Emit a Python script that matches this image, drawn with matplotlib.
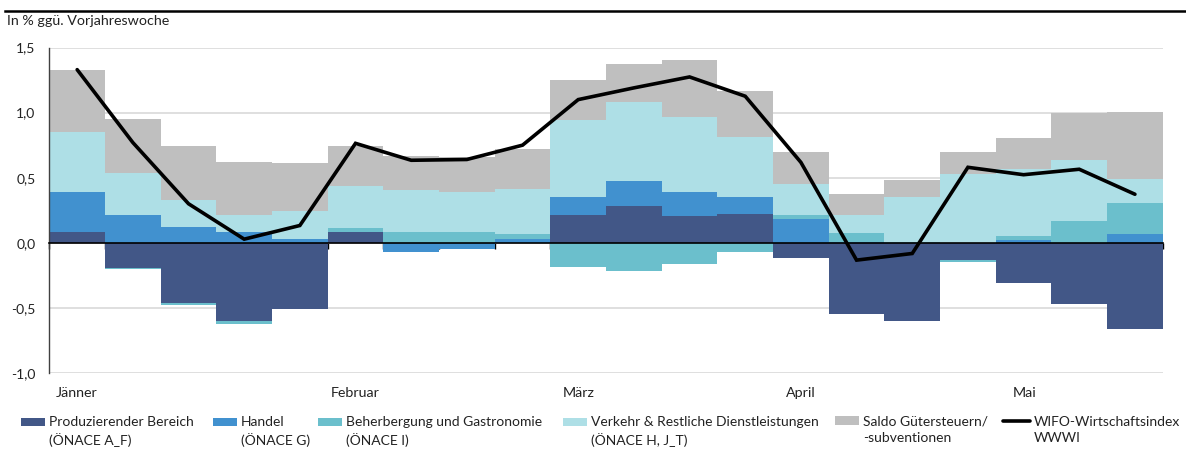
import numpy as np
import matplotlib
matplotlib.use("Agg")
import matplotlib.pyplot as plt
from matplotlib.lines import Line2D
from matplotlib.patches import Rectangle
from matplotlib.legend_handler import HandlerPatch, HandlerLine2D, update_from_first_child
from matplotlib.ticker import FixedLocator, FuncFormatter

plt.rcParams['font.family'] = ['Lato', 'DejaVu Sans']

# Wochenbeiträge zum WWWI (in Prozentpunkten)
prod = [0.08, -0.19, -0.465, -0.598, -0.511, 0.084, 0.0, 0.0, 0.0, 0.217,
        0.284, 0.207, 0.22, -0.115, -0.547, -0.598, -0.133, -0.312, -0.47, -0.659]
handel = [0.31, 0.212, 0.123, 0.08, 0.03, -0.005, -0.067, -0.05, 0.031, 0.138,
          0.189, 0.184, 0.135, 0.186, 0.005, 0.0, 0.0, 0.018, 0.0, 0.064]
beherb = [0.0, -0.011, -0.015, -0.028, 0.0, 0.031, 0.08, 0.084, 0.04, -0.186,
          -0.217, -0.166, -0.074, 0.029, 0.074, 0.008, -0.017, 0.038, 0.169, 0.243]
verkehr = [0.46, 0.327, 0.207, 0.132, 0.215, 0.322, 0.326, 0.309, 0.34, 0.59,
           0.61, 0.575, 0.457, 0.237, 0.136, 0.342, 0.529, 0.511, 0.465, 0.181]
saldo = [0.48, 0.411, 0.416, 0.406, 0.365, 0.306, 0.261, 0.263, 0.31, 0.309,
         0.291, 0.435, 0.353, 0.243, 0.163, 0.135, 0.166, 0.24, 0.36, 0.516]
wwwi = [1.33, 0.77, 0.30, 0.028, 0.133, 0.764, 0.634, 0.64, 0.75, 1.10,
        1.19, 1.274, 1.126, 0.618, -0.133, -0.082, 0.58, 0.523, 0.565, 0.373]

months = ["Jänner", "Februar", "März", "April", "Mai"]

series_labels = ["Produzierender Bereich\n(ÖNACE A_F)", "Handel\n(ÖNACE G)",
                 "Beherbergung und Gastronomie\n(ÖNACE I)",
                 "Verkehr & Restliche Dienstleistungen\n(ÖNACE H, J_T)",
                 "Saldo Gütersteuern/\n-subventionen"]
line_label = "WIFO-Wirtschaftsindex\nWWWI"

colors = ["#425787", "#4191cf", "#6bbfcc", "#aedfe6", "#bfbfbf"]
month_x = [-0.38, 4.56, 8.73, 12.73, 16.81]      # Lage der Monatsbeschriftung
legend_x = [21, 213, 318, 563, 835, 1003]         # Pixel, linker Rand der Legendeneinträge

# Legendensymbol auf Höhe der ersten Textzeile
OFF = 6.7


def upper_patch(legend, orig_handle, xdescent, ydescent, width, height, fontsize):
    return Rectangle((-xdescent, -ydescent + OFF), width, height)


class UpperLine(HandlerLine2D):
    def create_artists(self, legend, orig_handle, xdescent, ydescent, width, height, fontsize, trans):
        arts = super().create_artists(legend, orig_handle, xdescent, ydescent, width, height, fontsize, trans)
        for a in arts:
            a.set_ydata(np.asarray(a.get_ydata()) + OFF)
        return arts


fig = plt.figure(figsize=(11.86, 4.5), dpi=100)
ax = fig.add_axes([0.0416, 0.1711, 0.9388, 0.7233])

x = np.arange(len(wwwi))
pos_bot = np.zeros(len(x))
neg_bot = np.zeros(len(x))
handles = []
for vals, col, lab in zip([prod, handel, beherb, verkehr, saldo], colors, series_labels):
    v = np.array(vals)
    bot = np.where(v >= 0, pos_bot, neg_bot)
    b = ax.bar(x, v, width=1.0, bottom=bot, color=col, linewidth=0, label=lab, zorder=2)
    handles.append(b)
    pos_bot += np.where(v >= 0, v, 0)
    neg_bot += np.where(v < 0, v, 0)

ln, = ax.plot(x, wwwi, color="black", lw=2.6, label=line_label, zorder=4,
              solid_joinstyle="miter", solid_capstyle="round")
handles.append(ln)

ax.set_xlim(-0.5, len(x) - 0.5)
ax.set_ylim(-1.0, 1.5)
ax.set_yticks([-1.0, -0.5, 0.0, 0.5, 1.0, 1.5])
ax.yaxis.set_major_formatter(FuncFormatter(lambda v, p: f"{v:.1f}".replace(".", ",")))
ax.grid(axis="y", color="#d9d9d9", lw=1.2, zorder=0)
ax.set_axisbelow(True)
ax.tick_params(axis="y", length=0, pad=10, labelsize=10, colors="#222222")

ax.spines["top"].set_visible(False)
ax.spines["right"].set_visible(False)
ax.spines["left"].set_color("#404040")
ax.spines["left"].set_linewidth(1.0)
ax.spines["bottom"].set_position(("data", 0))
ax.spines["bottom"].set_color("black")
ax.spines["bottom"].set_linewidth(1.2)
ax.spines["bottom"].set_zorder(3)
ax.xaxis.set_major_locator(FixedLocator(np.arange(-0.5, len(x), 1.0)))
ax.tick_params(axis="x", direction="out", length=4, width=1, labelbottom=False)

for m, mx in zip(months, month_x):
    ax.text(mx, -1.153, m, fontsize=10.3, va="center", ha="left", color="#222222")

fig.text(7 / 1186, 1 - 21 / 450, "In % ggü. Vorjahreswoche", fontsize=10.3,
         va="center", ha="left", color="#222222")
fig.add_artist(Line2D([5 / 1186, 1.0], [1 - 10.5 / 450] * 2, color="black", lw=1.8))

hmap = {type(handles[0]): HandlerPatch(patch_func=upper_patch, update_func=update_from_first_child),
        Line2D: UpperLine()}
for h, lx in zip(handles, legend_x):
    hl = 1.95 if isinstance(h, Line2D) else 1.73
    leg = fig.legend(handles=[h], loc="upper left", bbox_to_anchor=(lx / 1186, 1 - 416 / 450),
                     frameon=False, fontsize=10, borderpad=0, borderaxespad=0,
                     handlelength=hl, handleheight=0.58, handletextpad=0.29,
                     handler_map=hmap)
    for t in leg.get_texts():
        t.set_linespacing(1.38)
        t.set_color("#222222")

fig.savefig("out.png", dpi=100)
